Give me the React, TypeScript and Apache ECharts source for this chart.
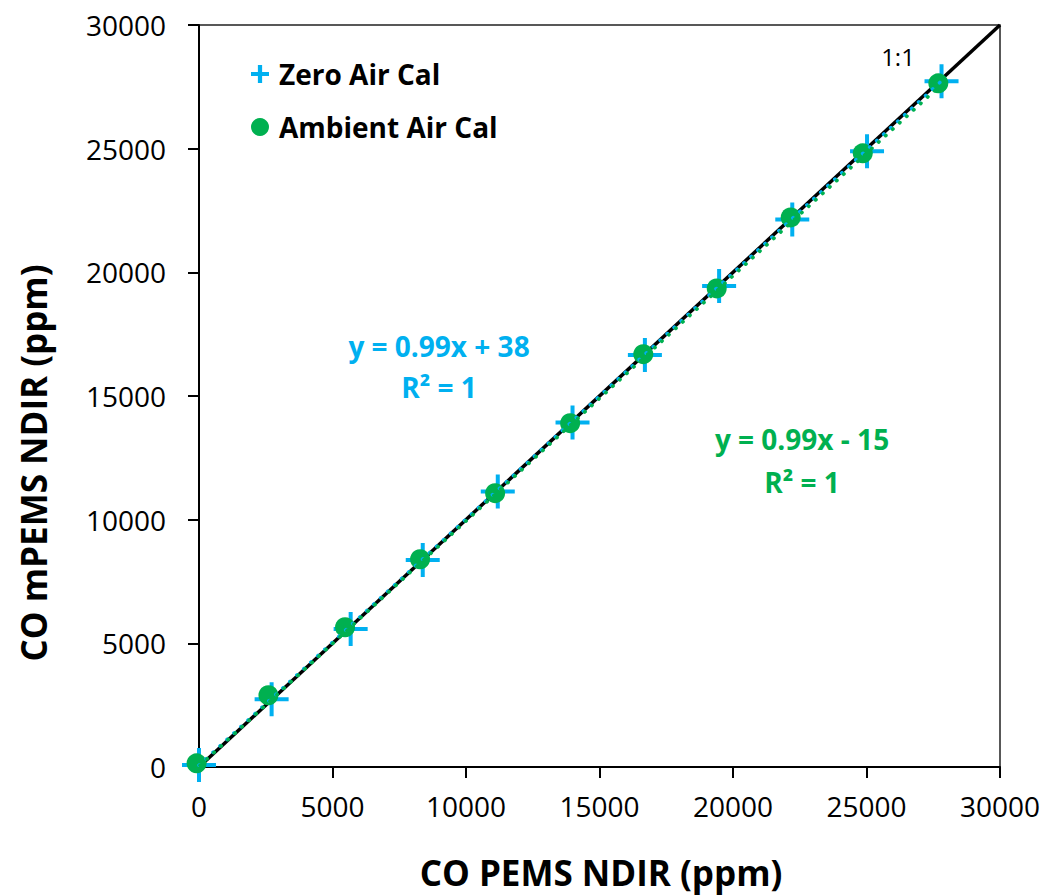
import React, { useEffect, useRef } from "react";
import * as echarts from "echarts";

const zeroAirCal: [number, number][] = [
  [0, 80], [2720, 2740], [5680, 5580], [8380, 8370], [11190, 11140],
  [13990, 13930], [16700, 16660], [19480, 19450], [22220, 22140],
  [25020, 24900], [27810, 27730],
];
const ambientAirCal: [number, number][] = [
  [-90, 150], [2600, 2900], [5470, 5650], [8280, 8400], [11090, 11070],
  [13900, 13900], [16640, 16690], [19390, 19350], [22160, 22220],
  [24860, 24810], [27690, 27640],
];
const oneToOne: [number, number][] = [[0, 0], [30000, 30000]];
const zeroTrend: [number, number][] = [[0, 70], [27810, 27740]];
const ambientTrend: [number, number][] = [[-90, -60], [27690, 27480]];
const axisTicks = { min: 0, max: 30000, interval: 5000 };

const BLUE = "#00B0F0";
const GREEN = "#00B050";
const FONT = "Open Sans";

const plusBig = "path://M15,0H19V15H34V19H19V34H15V19H0V15H15Z";
const plusLegend = "path://M6.5,0H10.5V6.5H17V10.5H10.5V17H6.5V10.5H0V6.5H6.5Z";

export default function App() {
  const ref = useRef<HTMLDivElement>(null);
  useEffect(() => {
    if (!ref.current) return;
    const chart = echarts.init(ref.current, null, { renderer: "svg" });
    const axisCommon = {
      type: "value" as const,
      min: axisTicks.min,
      max: axisTicks.max,
      interval: axisTicks.interval,
      splitLine: { show: false },
      axisLine: { show: true, onZero: false, lineStyle: { color: "#000", width: 2 } },
      axisTick: { show: true, length: 11, lineStyle: { color: "#000", width: 2 } },
    };
    const fmt = (v: number) => String(v);
    chart.setOption({
      animation: false,
      backgroundColor: "#fff",
      grid: {
        left: 199, right: 50, top: 25, bottom: 128,
        show: true, borderColor: "#222", borderWidth: 1.5, backgroundColor: "transparent",
      },
      xAxis: {
        ...axisCommon,
        axisLabel: { margin: 25, fontSize: 28, color: "#000", fontFamily: FONT, formatter: fmt },
      },
      yAxis: {
        ...axisCommon,
        axisLabel: { margin: 33, fontSize: 28, color: "#000", fontFamily: FONT, formatter: fmt },
      },
      legend: {
        orient: "vertical",
        left: 246,
        top: 54,
        itemWidth: 18,
        itemHeight: 18,
        itemGap: 23,
        textStyle: {
          fontSize: 28, fontWeight: "bold", color: "#000", fontFamily: FONT,
          lineHeight: 30, padding: [0, 0, 0, 5],
        },
        data: [
          { name: "Zero Air Cal", icon: plusLegend },
          { name: "Ambient Air Cal", icon: "circle" },
        ],
      },
      series: [
        {
          name: "1:1",
          type: "line",
          data: oneToOne,
          symbol: "none",
          lineStyle: { color: "#000", width: 3.5 },
          z: 1,
          silent: true,
        },
        {
          name: "Zero Air Cal",
          type: "scatter",
          data: zeroAirCal,
          symbol: plusBig,
          symbolSize: 34,
          itemStyle: { color: BLUE, opacity: 1 },
          clip: false,
          z: 2,
        },
        {
          name: "Ambient Air Cal",
          type: "scatter",
          data: ambientAirCal,
          symbol: "circle",
          symbolSize: 20,
          itemStyle: { color: GREEN, opacity: 1 },
          clip: false,
          z: 3,
        },
        {
          name: "Zero trend",
          type: "line",
          data: zeroTrend,
          symbol: "none",
          lineStyle: { color: BLUE, width: 3.5, type: [0.5, 9], cap: "round" },
          z: 4,
          silent: true,
        },
        {
          name: "Ambient trend",
          type: "line",
          data: ambientTrend,
          symbol: "none",
          lineStyle: { color: GREEN, width: 3.5, type: [0.5, 9], cap: "round", dashOffset: 4.5 },
          z: 4,
          silent: true,
        },
      ],
      graphic: [
        {
          type: "text", x: 898, y: 56,
          style: { text: "1:1", fontSize: 24, fill: "#000", fontFamily: FONT, align: "center", verticalAlign: "middle" },
        },
        {
          type: "text", x: 439, y: 346,
          style: { text: "y = 0.99x + 38", fontSize: 28, fontWeight: "bold", fill: BLUE, fontFamily: FONT, align: "center", verticalAlign: "middle" },
        },
        {
          type: "text", x: 439, y: 387,
          style: { text: "R² = 1", fontSize: 28, fontWeight: "bold", fill: BLUE, fontFamily: FONT, align: "center", verticalAlign: "middle" },
        },
        {
          type: "text", x: 802, y: 439,
          style: { text: "y = 0.99x - 15", fontSize: 28, fontWeight: "bold", fill: GREEN, fontFamily: FONT, align: "center", verticalAlign: "middle" },
        },
        {
          type: "text", x: 802, y: 482,
          style: { text: "R² = 1", fontSize: 28, fontWeight: "bold", fill: GREEN, fontFamily: FONT, align: "center", verticalAlign: "middle" },
        },
        {
          type: "text", x: 601, y: 872,
          style: { text: "CO PEMS NDIR (ppm)", fontSize: 35, fontWeight: "bold", fill: "#000", fontFamily: FONT, align: "center", verticalAlign: "middle" },
        },
        {
          type: "text", x: 33, y: 463, rotation: Math.PI / 2,
          style: { text: "CO mPEMS NDIR (ppm)", fontSize: 35, fontWeight: "bold", fill: "#000", fontFamily: FONT, align: "center", verticalAlign: "middle" },
        },
      ],
    });
    return () => chart.dispose();
  }, []);
  return (
    <div
      ref={ref}
      style={{ position: "absolute", left: 0, top: 0, width: 1050, height: 895, background: "#fff" }}
    />
  );
}
